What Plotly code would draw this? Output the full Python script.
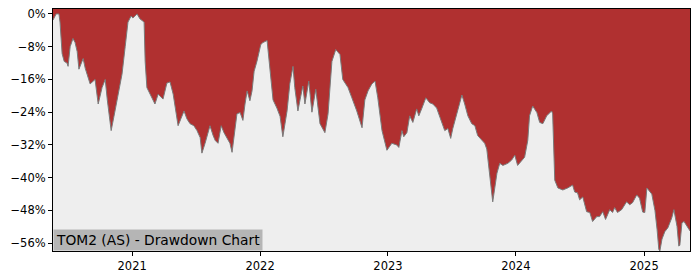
import plotly.graph_objects as go

# Drawdown data (percent)
dates = [
    "2020-05-20", "2020-05-26", "2020-05-29", "2020-06-06", "2020-06-09", "2020-06-15",
    "2020-06-21", "2020-06-29", "2020-07-02", "2020-07-08", "2020-07-16", "2020-07-22",
    "2020-07-28", "2020-08-02", "2020-08-14", "2020-08-20", "2020-09-03", "2020-09-17",
    "2020-09-26", "2020-10-07", "2020-10-16", "2020-10-22", "2020-11-02", "2020-11-10",
    "2020-11-19", "2020-12-03", "2020-12-12", "2020-12-20", "2020-12-29",
    "2021-01-03", "2021-01-15", "2021-01-23", "2021-02-04", "2021-02-07", "2021-02-12",
    "2021-02-27", "2021-03-07", "2021-03-16", "2021-03-30", "2021-04-10", "2021-04-19",
    "2021-04-28", "2021-05-06", "2021-05-12", "2021-05-20", "2021-05-29", "2021-06-06",
    "2021-06-15", "2021-06-26", "2021-07-05", "2021-07-14", "2021-07-19", "2021-07-28",
    "2021-08-03", "2021-08-11", "2021-08-20", "2021-08-26", "2021-09-03", "2021-09-12",
    "2021-09-20", "2021-09-29", "2021-10-07", "2021-10-13", "2021-10-22", "2021-10-27",
    "2021-11-05", "2021-11-13", "2021-11-19", "2021-11-25", "2021-12-03", "2021-12-09",
    "2021-12-15", "2021-12-23",
    "2022-01-03", "2022-01-09", "2022-01-21", "2022-01-29", "2022-02-07", "2022-02-18",
    "2022-02-27", "2022-03-07", "2022-03-19", "2022-03-27", "2022-04-05", "2022-04-10",
    "2022-04-19", "2022-04-25", "2022-05-03", "2022-05-09", "2022-05-20", "2022-05-29",
    "2022-06-09", "2022-06-21", "2022-07-05", "2022-07-14", "2022-07-25", "2022-08-05",
    "2022-08-17", "2022-08-25", "2022-09-09", "2022-09-20", "2022-10-04", "2022-10-19",
    "2022-10-27", "2022-11-05", "2022-11-16", "2022-11-25", "2022-12-03", "2022-12-15",
    "2022-12-29",
    "2023-01-12", "2023-01-26", "2023-02-01", "2023-02-10", "2023-02-15", "2023-02-24",
    "2023-03-04", "2023-03-13", "2023-03-24", "2023-03-30", "2023-04-08", "2023-04-19",
    "2023-04-30", "2023-05-09", "2023-05-20", "2023-06-04", "2023-06-12", "2023-06-21",
    "2023-06-29", "2023-07-05", "2023-07-16", "2023-07-31", "2023-08-08", "2023-08-17",
    "2023-08-28", "2023-09-06", "2023-09-14", "2023-09-26", "2023-10-04", "2023-10-10",
    "2023-10-19", "2023-10-27", "2023-11-08", "2023-11-16", "2023-11-25", "2023-12-09",
    "2023-12-20", "2023-12-29",
    "2024-01-06", "2024-01-18", "2024-01-26", "2024-02-04", "2024-02-09", "2024-02-18",
    "2024-03-01", "2024-03-09", "2024-03-18", "2024-03-29", "2024-04-12", "2024-04-15",
    "2024-04-21", "2024-04-30", "2024-05-14", "2024-05-28", "2024-06-11", "2024-06-17",
    "2024-06-25", "2024-07-01", "2024-07-10", "2024-07-21", "2024-07-30", "2024-08-07",
    "2024-08-19", "2024-08-27", "2024-09-05", "2024-09-13", "2024-09-25", "2024-10-03",
    "2024-10-09", "2024-10-17", "2024-10-29", "2024-11-12", "2024-11-21", "2024-11-29",
    "2024-12-11", "2024-12-19", "2024-12-28",
    "2025-01-03", "2025-01-09", "2025-01-23", "2025-02-01", "2025-02-07", "2025-02-12",
    "2025-02-15", "2025-02-21", "2025-03-01", "2025-03-10", "2025-03-21", "2025-03-27",
    "2025-04-05", "2025-04-10", "2025-04-13", "2025-04-19", "2025-04-25", "2025-05-03",
    "2025-05-09", "2025-05-12",
]
drawdown = [
    -1.5, -0.5, 0.0, 0.0, -2.0, -9.7,
    -11.6, -12.0, -12.8, -8.0, -6.0, -7.0,
    -9.2, -13.5, -10.9, -13.3, -17.1, -16.0,
    -22.0, -18.0, -16.0, -21.0, -28.5, -25.0,
    -21.0, -14.7, -8.0, -2.0, -0.5,
    -1.0, 0.0, -1.2, -2.0, -11.6, -18.0,
    -20.5, -22.0, -19.6, -20.8, -16.9, -16.6,
    -19.6, -24.4, -27.3, -25.6, -23.7, -25.6,
    -26.8, -27.3, -28.5, -30.2, -34.0, -31.6,
    -29.7, -27.3, -29.7, -30.9, -31.6, -27.3,
    -29.0, -30.2, -31.6, -33.8, -26.8, -24.4,
    -24.1, -26.0, -22.0, -18.8, -21.2, -18.8,
    -14.0, -11.6,
    -7.5, -7.0, -6.5, -13.3, -21.0, -23.0,
    -25.0, -30.0, -23.7, -17.0, -12.8, -18.0,
    -23.7, -21.0, -17.6, -22.0, -16.4, -24.0,
    -18.4, -26.8, -29.0, -24.4, -11.6, -8.7,
    -9.9, -16.0, -18.0, -20.5, -23.7, -27.8,
    -21.0, -18.8, -17.1, -16.4, -20.5, -28.5,
    -33.3,
    -31.6, -32.0, -32.6, -28.5, -30.0, -29.0,
    -24.9, -26.5, -23.2, -24.9, -23.0, -20.5,
    -21.7, -22.0, -23.0, -26.8, -28.5, -28.0,
    -30.4, -28.0, -24.4, -19.8, -22.0, -24.9,
    -26.8, -27.3, -29.7, -30.9, -31.6, -33.0,
    -40.0, -45.9, -38.9, -36.5, -37.0, -36.5,
    -35.7, -34.5,
    -37.0, -35.7, -35.0, -30.9, -24.9, -22.5,
    -24.1, -26.5, -26.8, -24.9, -23.7, -24.4,
    -40.6, -42.5, -43.0, -42.5, -41.8, -43.5,
    -43.7, -45.4, -44.7, -48.3, -48.5, -50.7,
    -49.5, -49.5, -48.3, -50.2, -47.8, -48.5,
    -47.3, -48.5, -47.8, -45.9, -46.6, -46.1,
    -44.2, -45.0, -48.4,
    -48.5, -42.5, -44.0, -48.0, -52.6, -57.5,
    -57.9, -55.0, -53.2, -52.2, -49.8, -47.8,
    -51.9, -56.7, -56.5, -51.0, -50.7, -52.0,
    -52.6, -53.0,
]

y_tick_vals = [0, -8, -16, -24, -32, -40, -48, -56]
y_tick_text = ["0%", "\u22128%", "\u221216%", "\u221224%", "\u221232%", "\u221240%", "\u221248%", "\u221256%"]
x_tick_vals = ["2021-01-01", "2022-01-01", "2023-01-01", "2024-01-01", "2025-01-01"]
x_tick_text = ["2021", "2022", "2023", "2024", "2025"]
title_text = "TOM2 (AS) - Drawdown Chart"

Y_RANGE = [-57.9, 1.2]
X_RANGE = ["2020-05-20", "2025-05-12"]

RED = "#b03030"
GRAY_BG = "#eeeeee"

fig = go.Figure()
# invisible baseline at the bottom of the axis, so the area under the drawdown line is grey
fig.add_trace(go.Scatter(
    x=dates, y=[Y_RANGE[0]] * len(dates), mode="lines",
    line=dict(width=0, color="rgba(0,0,0,0)"), hoverinfo="skip", showlegend=False,
))
fig.add_trace(go.Scatter(
    x=dates, y=drawdown, mode="lines", fill="tonexty", fillcolor=GRAY_BG,
    line=dict(color="#7a7a7a", width=1), hoverinfo="skip", showlegend=False,
))

font_family = "DejaVu Sans"
fig.update_layout(
    width=700, height=280,
    margin=dict(l=53, r=10, t=7, b=28),
    paper_bgcolor="white",
    plot_bgcolor=RED,
    font=dict(family=font_family, size=11, color="black"),
    showlegend=False,
    xaxis=dict(
        type="date", range=X_RANGE,
        tickvals=x_tick_vals, ticktext=x_tick_text,
        ticks="outside", ticklen=4, tickwidth=1, tickcolor="black",
        showgrid=False, zeroline=False,
        showline=True, linecolor="black", linewidth=1, mirror=True,
        tickfont=dict(family=font_family, size=11.5, color="black"),
    ),
    yaxis=dict(
        range=Y_RANGE,
        tickvals=y_tick_vals, ticktext=y_tick_text,
        ticks="outside", ticklen=4, tickwidth=1, tickcolor="black",
        showgrid=False, zeroline=False,
        showline=True, linecolor="black", linewidth=1, mirror=True,
        tickfont=dict(family=font_family, size=11.5, color="black"),
    ),
    annotations=[dict(
        text=title_text, xref="paper", yref="paper", x=0, y=0,
        xanchor="left", yanchor="bottom", showarrow=False,
        bgcolor="#b5b5b5", borderpad=2,
        font=dict(family=font_family, size=13.8, color="black"),
    )],
)

fig.write_html("out.html")
